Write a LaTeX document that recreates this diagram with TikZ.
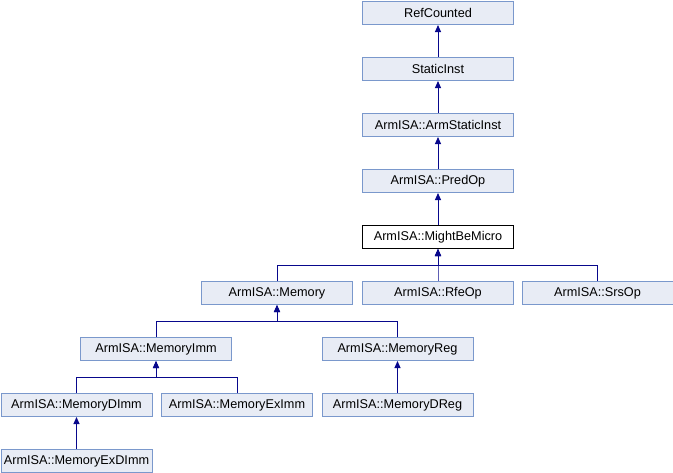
\documentclass[tikz,border=0pt]{standalone}
\usepackage{fontspec}
\setmainfont{Liberation Sans}
\usetikzlibrary{arrows.meta}
\definecolor{boxfill}{RGB}{232,236,245}
\definecolor{boxline}{RGB}{122,152,204}
\definecolor{edgecol}{RGB}{8,8,140}
\tikzset{
  cls/.style={draw=boxline, fill=boxfill, line width=1pt, anchor=north west,
    minimum width=151pt, minimum height=23pt, inner sep=0pt,
    font=\fontsize{12.7pt}{14pt}\selectfont},
  current/.style={cls, draw=black, fill=white},
  inherit/.style={draw=edgecol, line width=1pt,
    -{Triangle[length=7pt,width=6pt]}},
}
\begin{document}
\begin{tikzpicture}[x=1pt,y=-1pt]
\useasboundingbox (0,0) rectangle (673,472);
% class boxes, placed by their top-left corners
\node[cls] (ref)       at (362,1)     {RefCounted};
\node[cls] (static)    at (362,57)    {StaticInst};
\node[cls] (armstatic) at (362,113)   {ArmISA::ArmStaticInst};
\node[cls] (predop)    at (362,169)   {ArmISA::PredOp};
\node[current] (might) at (362,225)   {ArmISA::MightBeMicro};
\node[cls] (memory)    at (201,281)   {ArmISA::Memory};
\node[cls] (rfe)       at (362,281)   {ArmISA::RfeOp};
\node[cls] (srs)       at (521.5,281) {ArmISA::SrsOp};
\node[cls] (memimm)    at (80,337)    {ArmISA::MemoryImm};
\node[cls] (memreg)    at (321.5,337) {ArmISA::MemoryReg};
\node[cls] (memdimm)   at (0.5,393)   {ArmISA::MemoryDImm};
\node[cls] (memeximm)  at (161,393)   {ArmISA::MemoryExImm};
\node[cls] (memdreg)   at (321.5,393) {ArmISA::MemoryDReg};
\node[cls] (memexdimm) at (0.5,449)   {ArmISA::MemoryExDImm};
% single-child inheritance edges
\draw[inherit] (static.north) -- (ref.south);
\draw[inherit] (armstatic.north) -- (static.south);
\draw[inherit] (predop.north) -- (armstatic.south);
\draw[inherit] (might.north) -- (predop.south);
\draw[inherit] (memdreg.north) -- (memreg.south);
\draw[inherit] (memexdimm.north) -- (memdimm.south);
% multi-child edges through a shared horizontal bus
\foreach \c in {memory,rfe,srs}
  \draw[inherit] (\c.north) -- ++(0,-16) -| (might.south);
\foreach \c in {memimm,memreg}
  \draw[inherit] (\c.north) -- ++(0,-16) -| (memory.south);
\foreach \c in {memdimm,memeximm}
  \draw[inherit] (\c.north) -- ++(0,-16) -| (memimm.south);
\end{tikzpicture}
\end{document}
